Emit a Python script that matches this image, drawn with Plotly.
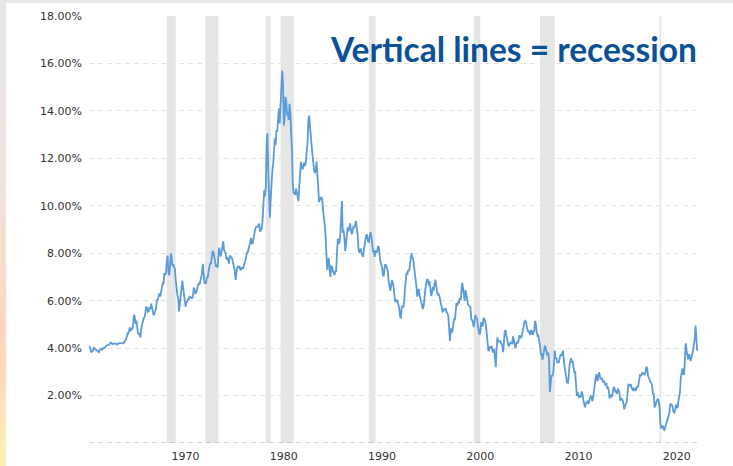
import pandas as pd
import plotly.graph_objects as go

# 10-year Treasury yield, monthly readings (%), Jan 1962 onward
yld_1960s = [
    4.08, 4.04, 3.93, 3.84, 3.87, 3.91, 4.01, 3.98, 3.98, 3.93, 3.92, 3.86,
    3.83, 3.92, 3.93, 3.97, 3.93, 3.99, 4.02, 4.00, 4.08, 4.11, 4.12, 4.13,
    4.17, 4.15, 4.22, 4.23, 4.20, 4.17, 4.19, 4.19, 4.20, 4.19, 4.15, 4.18,
    4.19, 4.21, 4.21, 4.20, 4.21, 4.21, 4.20, 4.25, 4.29, 4.35, 4.45, 4.62,
    4.61, 4.83, 4.87, 4.75, 4.78, 4.81, 5.02, 5.40, 5.30, 5.01, 5.16, 4.84,
    4.58, 4.63, 4.54, 4.45, 4.85, 5.02, 5.16, 5.28, 5.30, 5.48, 5.75, 5.70,
    5.53, 5.56, 5.74, 5.64, 5.87, 5.72, 5.50, 5.38, 5.46, 5.58, 5.70, 6.03,
    6.04, 6.19, 6.30, 6.17, 6.32, 6.57, 6.72, 6.69, 7.16, 7.10, 7.14, 7.65,
]
yld_1970s = [
    7.90, 7.24, 7.07, 7.39, 8.00, 7.84, 7.46, 7.53, 7.39, 7.33, 6.84, 6.39,
    6.24, 6.11, 5.55, 5.83, 6.39, 6.52, 6.85, 6.58, 6.14, 5.93, 5.75, 5.93,
    5.95, 6.08, 6.07, 6.19, 6.13, 6.11, 6.11, 6.21, 6.55, 6.48, 6.28, 6.36,
    6.46, 6.64, 6.71, 6.67, 6.85, 6.90, 7.13, 7.55, 7.09, 6.79, 6.73, 6.74,
    6.99, 6.96, 7.21, 7.51, 7.58, 7.54, 7.81, 8.10, 8.04, 7.90, 7.68, 7.43,
    7.50, 7.39, 7.73, 8.23, 8.06, 7.86, 8.06, 8.40, 8.50, 8.14, 8.05, 8.00,
    7.74, 7.79, 7.73, 7.56, 7.90, 7.86, 7.83, 7.77, 7.59, 7.41, 7.29, 6.87,
    7.21, 7.39, 7.46, 7.37, 7.46, 7.28, 7.33, 7.40, 7.34, 7.52, 7.58, 7.69,
    7.96, 8.03, 8.04, 8.15, 8.35, 8.46, 8.64, 8.41, 8.42, 8.64, 8.81, 9.01,
    9.10, 9.10, 9.12, 9.18, 9.25, 8.91, 8.95, 9.03, 9.33, 10.30, 10.65, 10.39,
]
yld_1980s = [
    10.80, 12.60, 13.05, 11.47, 10.18, 9.50, 10.25, 11.10, 11.51, 11.75, 12.68, 12.84,
    12.57, 13.19, 13.12, 13.68, 14.10, 13.47, 14.28, 14.94, 15.70, 15.15, 13.39, 13.72,
    14.59, 14.43, 13.86, 13.87, 13.62, 14.30, 13.95, 13.06, 12.34, 10.91, 10.55, 10.54,
    10.46, 10.72, 10.51, 10.40, 10.20, 10.85, 11.38, 11.85, 11.65, 11.54, 11.69, 11.83,
    11.67, 11.84, 12.32, 12.63, 13.60, 13.80, 13.36, 12.72, 12.52, 12.16, 11.57, 11.50,
    11.38, 11.51, 11.86, 11.43, 10.85, 10.16, 10.31, 10.33, 10.37, 10.24, 9.78, 9.26,
    9.19, 8.70, 7.78, 7.30, 7.71, 7.80, 7.30, 7.00, 7.45, 7.43, 7.25, 7.11,
    7.08, 7.25, 7.25, 8.02, 8.61, 8.40, 8.45, 8.76, 9.42, 10.20, 8.86, 8.99,
    8.67, 8.10, 8.37, 8.72, 9.09, 8.92, 9.06, 9.26, 8.98, 8.80, 8.96, 9.11,
    9.09, 9.17, 9.36, 9.18, 8.86, 8.28, 8.02, 8.11, 8.19, 8.01, 7.87, 7.84,
]
yld_1990s = [
    8.21, 8.47, 8.59, 8.79, 8.76, 8.48, 8.47, 8.75, 8.89, 8.72, 8.39, 8.08,
    8.09, 7.85, 8.11, 8.04, 8.07, 8.28, 8.27, 7.90, 7.65, 7.53, 7.42, 7.09,
    7.03, 7.34, 7.54, 7.48, 7.39, 7.26, 6.84, 6.59, 6.42, 6.59, 6.87, 6.77,
    6.60, 6.26, 5.98, 5.97, 6.04, 5.96, 5.81, 5.68, 5.36, 5.25, 5.72, 5.77,
    5.75, 5.97, 6.48, 6.97, 7.18, 7.10, 7.30, 7.24, 7.46, 7.74, 8.00, 7.81,
    7.78, 7.47, 7.20, 7.06, 6.63, 6.17, 6.28, 6.49, 6.20, 6.04, 5.93, 5.71,
    5.65, 5.81, 6.27, 6.51, 6.74, 6.91, 6.87, 6.64, 6.83, 6.53, 6.20, 6.30,
    6.58, 6.42, 6.69, 6.89, 6.71, 6.49, 6.22, 6.30, 6.21, 6.03, 5.88, 5.81,
    5.54, 5.57, 5.65, 5.64, 5.65, 5.50, 5.46, 5.34, 4.81, 4.30, 4.83, 4.65,
    4.72, 5.00, 5.23, 5.18, 5.54, 5.90, 5.79, 5.94, 5.92, 6.11, 6.03, 6.28,
]
yld_2000s = [
    6.75, 6.52, 6.26, 5.99, 6.44, 6.10, 6.05, 5.83, 5.80, 5.74, 5.72, 5.24,
    5.16, 5.10, 4.89, 5.14, 5.39, 5.28, 5.24, 4.97, 4.73, 4.57, 4.65, 5.09,
    5.04, 4.91, 5.28, 5.21, 5.16, 4.93, 4.65, 4.26, 3.87, 3.94, 4.05, 4.03,
    4.05, 3.90, 3.81, 3.96, 3.57, 3.20, 3.98, 4.45, 4.27, 4.29, 4.30, 4.27,
    4.15, 4.08, 3.83, 4.35, 4.72, 4.73, 4.50, 4.28, 4.13, 4.10, 4.19, 4.23,
    4.22, 4.17, 4.50, 4.34, 4.14, 4.00, 4.18, 4.26, 4.20, 4.46, 4.54, 4.47,
    4.42, 4.57, 4.72, 4.99, 5.11, 5.15, 5.09, 4.88, 4.72, 4.73, 4.60, 4.56,
    4.76, 4.72, 4.56, 4.69, 4.75, 5.15, 5.00, 4.67, 4.52, 4.53, 4.15, 4.10,
    3.74, 3.74, 3.51, 3.68, 3.88, 4.10, 4.01, 3.89, 3.69, 3.81, 3.53, 2.15,
    2.52, 2.87, 2.82, 2.93, 3.29, 3.90, 3.56, 3.59, 3.40, 3.39, 3.40, 3.59,
]
yld_2010s = [
    3.73, 3.69, 3.73, 3.90, 3.42, 3.20, 3.01, 2.70, 2.55, 2.54, 2.76, 3.29,
    3.39, 3.58, 3.41, 3.46, 3.17, 3.00, 3.00, 2.30, 1.98, 2.15, 2.01, 1.90,
    1.97, 1.97, 2.17, 2.05, 1.80, 1.62, 1.50, 1.68, 1.72, 1.75, 1.65, 1.72,
    1.91, 1.98, 1.96, 1.76, 1.93, 2.30, 2.58, 2.74, 2.90, 2.62, 2.72, 2.98,
    2.86, 2.71, 2.72, 2.71, 2.56, 2.60, 2.54, 2.42, 2.53, 2.30, 2.33, 2.21,
    1.88, 1.98, 2.04, 1.94, 2.20, 2.36, 2.32, 2.17, 2.17, 2.07, 2.26, 2.24,
    2.09, 1.78, 1.89, 1.81, 1.81, 1.64, 1.42, 1.56, 1.63, 1.76, 2.14, 2.49,
    2.43, 2.42, 2.48, 2.30, 2.30, 2.19, 2.32, 2.21, 2.20, 2.36, 2.35, 2.40,
    2.58, 2.86, 2.84, 2.87, 2.98, 2.91, 2.89, 2.89, 3.00, 3.22, 3.12, 2.83,
    2.71, 2.68, 2.57, 2.53, 2.40, 2.07, 2.06, 1.50, 1.70, 1.71, 1.81, 1.86,
]
yld_2020s = [
    1.76, 1.50, 0.85, 0.62, 0.67, 0.73, 0.58, 0.55, 0.68, 0.79, 0.87, 0.93,
    1.08, 1.26, 1.61, 1.64, 1.62, 1.52, 1.32, 1.28, 1.37, 1.58, 1.56, 1.47,
    1.76, 1.93, 2.13, 2.75, 2.90, 3.14, 2.90, 2.90, 3.52, 4.20, 3.89, 3.62,
    3.53, 3.75, 3.66, 3.46, 3.57, 3.75, 3.90, 4.17, 4.38, 4.95, 4.40, 3.90,
    3.95,
]

yields = yld_1960s + yld_1970s + yld_1980s + yld_1990s + yld_2000s + yld_2010s + yld_2020s
dates = pd.date_range("1962-01-01", periods=len(yields), freq="MS")

# NBER recession periods (start, end)
recession_starts = ["1969-12-01", "1973-11-01", "1980-01-01", "1981-07-01",
                    "1990-07-01", "2001-03-01", "2007-12-01", "2020-02-01"]
recession_ends = ["1970-11-01", "1975-03-01", "1980-07-01", "1982-11-01",
                  "1991-03-01", "2001-11-01", "2009-06-01", "2020-04-01"]

year_ticks = [1970, 1980, 1990, 2000, 2010, 2020]
pct_ticks = [2, 4, 6, 8, 10, 12, 14, 16, 18]

W, H = 733, 466
ML, MR, MT, MB = 89, 35, 16, 23
PW, PH = W - ML - MR, H - MT - MB


def px_x(px):
    return (px - ML) / PW


def px_y(py):
    return (H - MB - py) / PH


def blend(c1, c2, t):
    a = [int(c1[i:i + 2], 16) for i in (1, 3, 5)]
    b = [int(c2[i:i + 2], 16) for i in (1, 3, 5)]
    return "#" + "".join(f"{round(a[k] + (b[k] - a[k]) * t):02x}" for k in range(3))


fig = go.Figure()
fig.add_trace(go.Scatter(
    x=dates, y=yields, mode="lines",
    line=dict(color="#5b9bd8", width=1.8),
    hoverinfo="skip", showlegend=False,
))

shapes = []
for s, e in zip(recession_starts, recession_ends):
    shapes.append(dict(type="rect", xref="x", yref="y", x0=s, x1=e, y0=0, y1=18,
                       fillcolor="#e6e6e6", line=dict(width=0), layer="below"))

# dashed baseline at 0%
shapes.append(dict(type="line", xref="paper", yref="y", x0=0, x1=1, y0=0, y1=0,
                   line=dict(color="#aaaaaa", width=1, dash="5px,4px"), layer="above"))

# page frame: grey top strip and a soft warm strip down the left edge
shapes.append(dict(type="rect", xref="paper", yref="paper",
                   x0=px_x(0), x1=px_x(W), y0=px_y(3), y1=px_y(0),
                   fillcolor="#e8e8e8", line=dict(width=0), layer="above"))
stops = [(0, "#e7e7e7"), (60, "#e8e6e6"), (160, "#eee4e0"), (240, "#f4dfd2"),
         (320, "#fcd7be"), (370, "#fdd8bc"), (410, "#fde4ba"), (466, "#fbf0b6")]
seg = 6
for py in range(0, H, seg):
    mid = py + seg / 2
    for (p0, c0), (p1, c1) in zip(stops[:-1], stops[1:]):
        if p0 <= mid <= p1:
            col = blend(c0, c1, (mid - p0) / (p1 - p0))
            break
    shapes.append(dict(type="rect", xref="paper", yref="paper",
                       x0=px_x(0), x1=px_x(6), y0=px_y(min(py + seg, H)), y1=px_y(py),
                       fillcolor=col, line=dict(width=0), layer="above"))

fig.update_layout(
    width=W, height=H,
    margin=dict(l=ML, r=MR, t=MT, b=MB, pad=0, autoexpand=False),
    paper_bgcolor="white", plot_bgcolor="white",
    shapes=shapes,
    font=dict(family="DejaVu Sans", size=11, color="#333333"),
    xaxis=dict(
        type="date", range=["1962-01-01", "2024-01-01"],
        tickvals=[f"{y}-01-01" for y in year_ticks],
        ticktext=[str(y) for y in year_ticks],
        showgrid=False, zeroline=False, showline=False, ticks="",
        ticklabelshift=18, ticklabelstandoff=5, automargin=False,
        tickfont=dict(family="DejaVu Sans", size=11, color="#333333"),
        fixedrange=True,
    ),
    yaxis=dict(
        range=[0, 18],
        tickvals=pct_ticks,
        ticktext=[f"{v:.2f}%" for v in pct_ticks],
        showgrid=True, gridcolor="#e2e2e2", gridwidth=1, griddash="5px,4px",
        zeroline=False, showline=False, ticks="",
        ticklabelstandoff=6, automargin=False,
        tickfont=dict(family="DejaVu Sans", size=11, color="#333333"),
        fixedrange=True,
    ),
    annotations=[dict(
        text="Vertical lines = recession",
        xref="paper", yref="paper", x=px_x(328), y=px_y(49),
        xanchor="left", yanchor="middle", showarrow=False,
        font=dict(family="Lato", size=33.5, color="#0b5197", weight="bold"),
    )],
)

fig.write_html("out.html")
